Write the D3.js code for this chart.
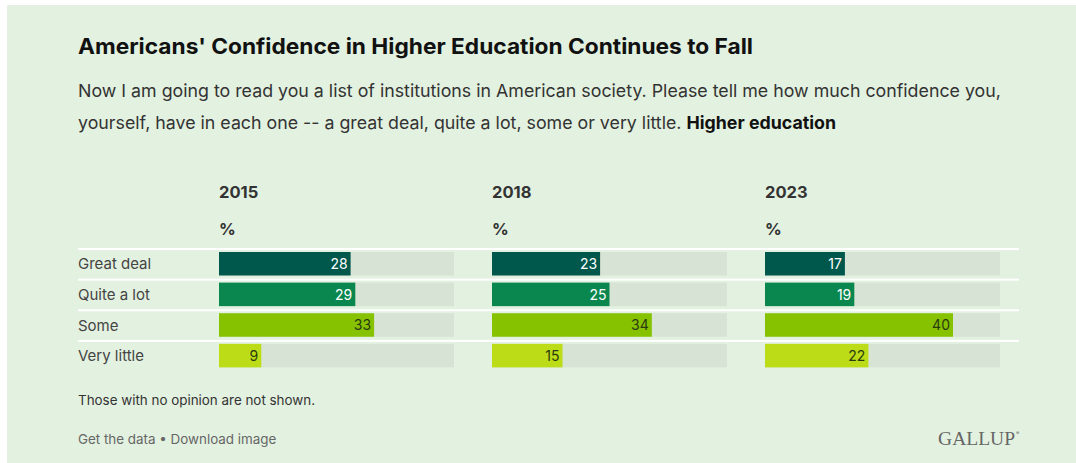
<!DOCTYPE html>
<html><head><meta charset="utf-8">
<script src="https://cdn.jsdelivr.net/npm/d3@7"></script>
<style>
html,body{margin:0;padding:0;background:#fff;}
svg{display:block;}
</style></head>
<body>
<svg id="chart" width="1076" height="463"></svg>
<script>
const categories = ["Great deal", "Quite a lot", "Some", "Very little"];
const years = ["2015", "2018", "2023"];
const values2015 = [28, 29, 33, 9];
const values2018 = [23, 25, 34, 15];
const values2023 = [17, 19, 40, 22];
const seriesValues = [values2015, values2018, values2023];
const colors = ["#00584d", "#0a874f", "#86c200", "#bcdc17"];
const labelColors = ["#ffffff", "#ffffff", "#2a3a10", "#2a3a10"];
const maxValue = 50;

const svg = d3.select("#chart");
const font = "Inter, 'Noto Sans', Roboto, sans-serif";

svg.append("rect").attr("x", 7).attr("y", 5).attr("width", 1069).attr("height", 458).attr("fill", "#e3f1e0");

svg.append("text").attr("x", 78).attr("y", 54)
  .attr("font-family", font).attr("font-size", 21.5).attr("font-weight", 700).attr("fill", "#111")
  .attr("textLength", 675).attr("lengthAdjust", "spacingAndGlyphs")
  .text("Americans' Confidence in Higher Education Continues to Fall");

svg.append("text").attr("x", 78).attr("y", 97)
  .attr("font-family", font).attr("font-size", 17.8).attr("fill", "#333")
  .text("Now I am going to read you a list of institutions in American society. Please tell me how much confidence you,");
const sub2 = svg.append("text").attr("x", 78).attr("y", 129)
  .attr("font-family", font).attr("font-size", 17.8).attr("fill", "#333");
sub2.append("tspan").text("yourself, have in each one -- a great deal, quite a lot, some or very little. ");
sub2.append("tspan").attr("font-weight", 700).attr("fill", "#111").text("Higher education");

const colX = d3.scalePoint().domain(years).range([219, 765]);
const rowY = d3.scaleBand().domain(categories).range([248, 370.5]).paddingInner(0).paddingOuter(0);
const barW = 235;
const x = d3.scaleLinear().domain([0, maxValue]).range([0, barW]);

categories.forEach(c => {
  svg.append("rect").attr("x", 78).attr("y", rowY(c)).attr("width", 941).attr("height", 2).attr("fill", "#ffffff");
  svg.append("text").attr("x", 78).attr("y", rowY(c) + rowY.bandwidth()/2 + 6)
    .attr("font-family", font).attr("font-size", 15).attr("fill", "#444").text(c);
});

years.forEach((yr, yi) => {
  const x0 = colX(yr);
  svg.append("text").attr("x", x0).attr("y", 198)
    .attr("font-family", font).attr("font-size", 16.5).attr("font-weight", 700).attr("fill", "#333").text(yr);
  svg.append("text").attr("x", x0).attr("y", 235)
    .attr("font-family", font).attr("font-size", 16.5).attr("font-weight", 700).attr("fill", "#333").text("%");
  const g = svg.append("g").attr("transform", `translate(${x0},0)`);
  const vals = seriesValues[yi];
  g.selectAll("rect.track").data(categories).enter().append("rect")
    .attr("x", 0).attr("y", c => rowY(c) + 4).attr("width", x(maxValue)).attr("height", 23.5).attr("fill", "#d7e3d4");
  g.selectAll("rect.bar").data(vals).enter().append("rect")
    .attr("x", 0).attr("y", (v, i) => rowY(categories[i]) + 4).attr("width", v => x(v)).attr("height", 23.5)
    .attr("fill", (v, i) => colors[i]);
  g.selectAll("text.val").data(vals).enter().append("text")
    .attr("x", v => x(v) - 3).attr("y", (v, i) => rowY(categories[i]) + 4 + 17)
    .attr("text-anchor", "end").attr("font-family", font).attr("font-size", 14)
    .attr("fill", (v, i) => labelColors[i]).text(v => v);
});

svg.append("text").attr("x", 78).attr("y", 405)
  .attr("font-family", font).attr("font-size", 13.4).attr("fill", "#333").text("Those with no opinion are not shown.");
svg.append("text").attr("x", 78).attr("y", 444)
  .attr("font-family", font).attr("font-size", 13.4).attr("fill", "#666").text("Get the data \u2022 Download image");
svg.append("text").attr("x", 1015).attr("y", 445).attr("text-anchor", "end")
  .attr("font-family", "'Liberation Serif', 'DejaVu Serif', serif").attr("font-size", 19.5).attr("fill", "#666")
  .text("GALLUP");
svg.append("text").attr("x", 1016).attr("y", 435)
  .attr("font-family", font).attr("font-size", 5).attr("fill", "#666").text("\u00AE");
</script>
</body></html>
